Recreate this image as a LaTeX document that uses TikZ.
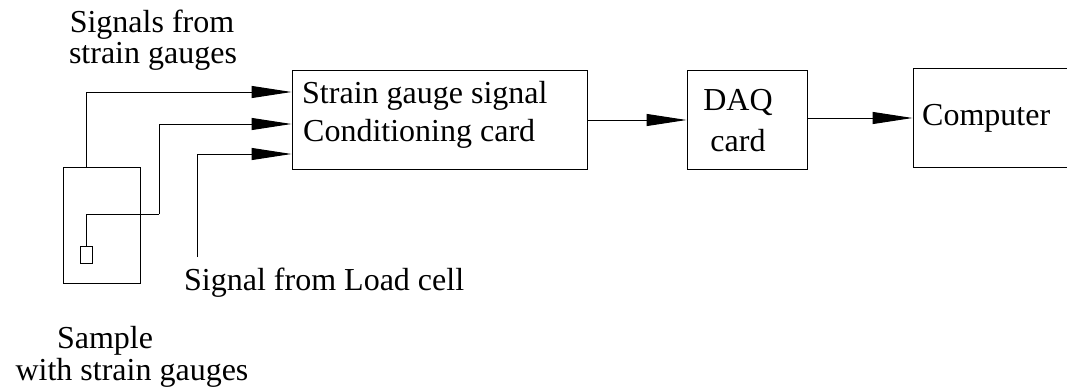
\documentclass[tikz,border=0pt]{standalone}
\usepackage{fontspec}
\setmainfont{Liberation Serif}
\usetikzlibrary{arrows.meta}
\begin{document}
\begin{tikzpicture}[x=1pt,y=-1pt,
  box/.style={draw, line width=1pt, rectangle, inner sep=0pt},
  lbl/.style={inner sep=0pt, font=\fontsize{32}{32}\selectfont},
  sig/.style={line width=1pt, -{Triangle[length=40pt,width=12pt]}},
  wire/.style={line width=1pt}]
\clip (0,0) rectangle (1067,391);
% boxes
\node[box, minimum width=77pt, minimum height=116pt] (sample) at (101.5,225) {};
\node[box, minimum width=12pt, minimum height=17pt] (gauge) at (86,254.5) {};
\node[box, minimum width=295pt, minimum height=99pt] (cond) at (439.5,119.5) {};
\node[box, minimum width=120pt, minimum height=99pt] (daq) at (747,119.5) {};
\node[box, minimum width=200pt, minimum height=99pt] (comp) at (1013,117.5) {};
\coordinate (load) at (197,257);
\coordinate (bend) at (159,214);
% texts
\node[lbl, anchor=base] (t1) at (152,32) {Signals from};
\node[lbl, anchor=base] (t2) at (153,63) {strain gauges};
\node[lbl, anchor=base west] (c1) at (302,103) {Strain gauge signal};
\node[lbl, anchor=base west] (c2) at (303,141) {Conditioning card};
\node[lbl, anchor=base] (d1) at (738,110) {DAQ};
\node[lbl, anchor=base] (d2) at (738,151) {card};
\node[lbl, anchor=base west] (p1) at (922,125) {Computer};
\node[lbl, anchor=base west] (l1) at (184,290) {Signal from Load cell};
\node[lbl, anchor=base] (s1) at (105,348) {Sample};
\node[lbl, anchor=base] (s2) at (132,380) {with strain gauges};
% connectors
\draw[sig] (sample.north -| gauge.north) |- (cond.west |- 0,92);
\draw[wire] (gauge.north) |- (bend);
\draw[sig] (bend) |- (cond.west |- 0,124);
\draw[sig] (load) |- (cond.west |- 0,154);
\draw[sig] (cond.east |- 0,120) -- (daq.west |- 0,120);
\draw[sig] (daq.east |- 0,118) -- (comp.west |- 0,118);
\end{tikzpicture}
\end{document}
